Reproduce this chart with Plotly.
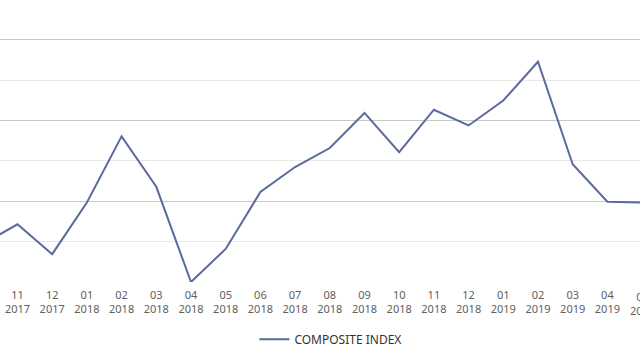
import plotly.graph_objects as go

months = ["10<br>2017", "11<br>2017", "12<br>2017", "01<br>2018", "02<br>2018", "03<br>2018",
          "04<br>2018", "05<br>2018", "06<br>2018", "07<br>2018", "08<br>2018", "09<br>2018",
          "10<br>2018", "11<br>2018", "12<br>2018", "01<br>2019", "02<br>2019", "03<br>2019",
          "04<br>2019", "05<br>2019"]
composite_index = [0.94, 1.43, 0.69, 1.97, 3.61, 2.36, 0.0, 0.82, 2.23, 2.85, 3.32, 4.19,
                   3.22, 4.27, 3.88, 4.50, 5.46, 2.92, 1.99, 1.97]

x_range = [0.496, 18.94]

fig = go.Figure()
fig.add_trace(go.Scatter(
    x=months, y=composite_index, mode="lines", name="COMPOSITE INDEX",
    line=dict(color="#5a6a9c", width=2),
))

# last category label, partly cut by the right edge (just outside the visible range)
last_pos = (len(months) - 1 - x_range[0]) / (x_range[1] - x_range[0])
fig.add_annotation(x=last_pos, xref="paper", xanchor="center", y=0, yref="paper",
                   yanchor="top", yshift=-5, text=months[-1], showarrow=False,
                   font=dict(size=11, color="#606060"))

fig.update_layout(
    width=640, height=360,
    margin=dict(l=0, r=0, t=0, b=78, autoexpand=False),
    paper_bgcolor="white", plot_bgcolor="white",
    font=dict(family="Noto Sans, Open Sans, sans-serif", color="#555555", size=11),
    showlegend=True,
    legend=dict(orientation="h", x=0.517, xanchor="center", y=-0.152, yanchor="top",
                font=dict(size=12, color="#333333"), itemwidth=30),
    xaxis=dict(type="category", range=x_range, showgrid=False, showline=False,
               ticks="", tickfont=dict(size=11, color="#606060"), tickangle=0,
               ticklabelstandoff=5, automargin=False),
    yaxis=dict(range=[0, 6.99], dtick=2, tick0=0, showticklabels=False, automargin=False,
               showgrid=True, gridcolor="#c8c8c8", gridwidth=1, zeroline=False,
               minor=dict(dtick=1, tick0=0, showgrid=True, gridcolor="#e8e8e8", gridwidth=1)),
)

fig.write_html("out.html", config={"displayModeBar": False},
               post_script="document.body.style.margin='0';document.body.style.overflow='hidden';")
